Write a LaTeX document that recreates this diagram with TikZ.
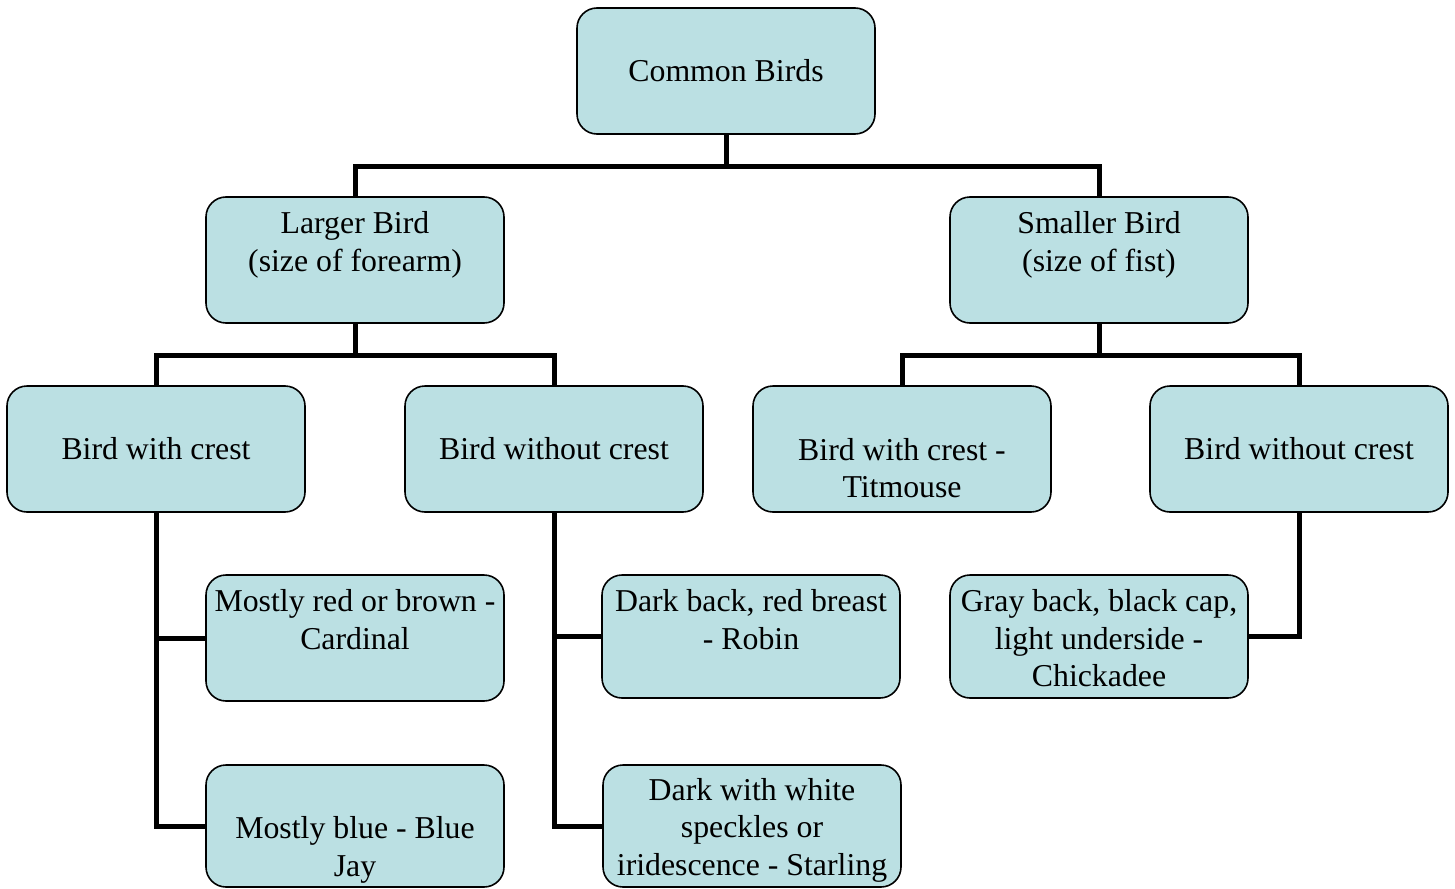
\documentclass[tikz,border=0pt]{standalone}
\usepackage{fontspec}
\setmainfont{Liberation Serif}
\usetikzlibrary{positioning, calc}
\definecolor{birdfill}{RGB}{187,224,227}
\tikzset{
  birdbox/.style={draw=black, line width=0.8pt, fill=birdfill, rounded corners=10pt,
    minimum width=149pt, minimum height=63pt, inner sep=0pt,
    align=center, font=\fontsize{15.9pt}{18.7pt}\selectfont},
  birdtext/.style={align=center, inner sep=0pt, font=\fontsize{15.9pt}{18.7pt}\selectfont},
  link/.style={line width=2.5pt, line join=miter},
}
\begin{document}
\begin{tikzpicture}[x=0.5pt, y=-0.5pt]
  \useasboundingbox (0,0) rectangle (1455,888);
  % boxes
  \node[birdbox] (common) at (726,71) {Common Birds};
  \node[birdbox] (larger) at (355,260) {};
  \node[birdbox] (smaller) at (1099,260) {};
  \node[birdbox] (crestL) at (156,449) {Bird with crest};
  \node[birdbox] (nocrestL) at (554,449) {Bird without crest};
  \node[birdbox] (crestR) at (902,449) {};
  \node[birdbox] (nocrestR) at (1299,449) {Bird without crest};
  \node[birdbox] (cardinal) at (355,638) {};
  \node[birdbox, minimum height=61pt] (bluejay) at (355,826) {};
  \node[birdbox, minimum height=61.5pt] (robin) at (751,636.5) {};
  \node[birdbox, minimum height=61pt] (starling) at (752,826) {};
  \node[birdbox, minimum height=61.5pt] (chickadee) at (1099,636.5) {};
  % texts off centre
  \node[birdtext] (largertxt) at ([yshift=7.5pt]larger.center) {Larger Bird\\(size of forearm)};
  \node[birdtext] (smallertxt) at ([yshift=7.5pt]smaller.center) {Smaller Bird\\(size of fist)};
  \node[birdtext] (crestRtxt) at ([yshift=-9.5pt]crestR.center) {Bird with crest -\\Titmouse};
  \node[birdtext] (cardinaltxt) at ([yshift=9.25pt]cardinal.center) {Mostly red or brown -\\Cardinal};
  \node[birdtext] (bluejaytxt) at ([yshift=-12pt]bluejay.center) {Mostly blue - Blue\\Jay};
  \node[birdtext] (robintxt) at ([yshift=8.5pt]robin.center) {Dark back, red breast\\- Robin};
  \node[birdtext] (starlingtxt) at ([yshift=-2pt]starling.center) {Dark with white\\speckles or\\iridescence - Starling};
  \node[birdtext] (chickadeetxt) at ([yshift=-1pt]chickadee.center) {Gray back, black cap,\\light underside -\\Chickadee};
  % links
  \coordinate (j1) at (726,166);
  \coordinate (j2) at (355,355);
  \coordinate (j3) at (1099,355);
  \draw[link] (common.south) -- (j1);
  \draw[link] (larger.north) |- (j1) -| (smaller.north);
  \draw[link] (larger.south) -- (j2);
  \draw[link] (crestL.north) |- (j2) -| (nocrestL.north);
  \draw[link] (smaller.south) -- (j3);
  \draw[link] (crestR.north) |- (j3) -| (nocrestR.north);
  \draw[link] (crestL.south) |- (cardinal.west);
  \draw[link] (crestL.south) |- (bluejay.west);
  \draw[link] (nocrestL.south) |- (robin.west);
  \draw[link] (nocrestL.south) |- (starling.west);
  \draw[link] (nocrestR.south) |- (chickadee.east);
\end{tikzpicture}
\end{document}
